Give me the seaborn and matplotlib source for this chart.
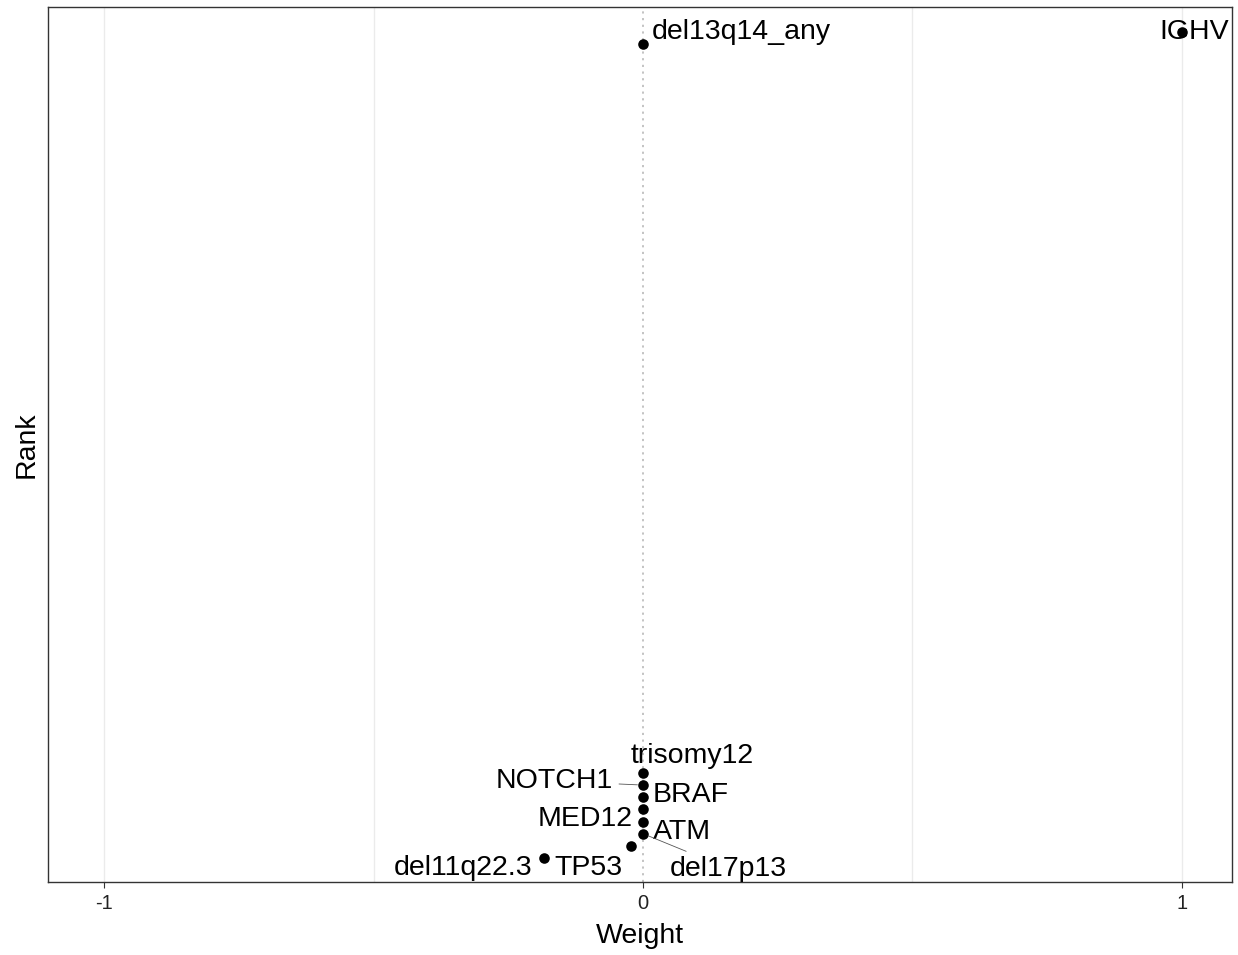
import matplotlib
matplotlib.use("Agg")
import matplotlib.pyplot as plt
import seaborn as sns
import pandas as pd

# ---- data ----
features = ["IGHV", "del13q14_any", "trisomy12", "NOTCH1", "BRAF",
            "MED12", "ATM", "del17p13", "TP53", "del11q22.3"]
weights = [1.0, 0.0, 0.0, 0.0, 0.0, 0.0, 0.0, 0.0, -0.022, -0.184]
ranks = [1, 2, 62, 63, 64, 65, 66, 67, 68, 69]
x_ticks = [-1, 0, 1]

df = pd.DataFrame({"Feature": features, "Weight": weights, "Rank": ranks})

# label offsets in pixels (dx, dy), alignment, and whether a segment is drawn
label_style = {
    "IGHV":         (12, 0, "center", False),
    "del13q14_any": (9, -12, "left", False),
    "trisomy12":    (49, -17, "center", False),
    "NOTCH1":       (-30, -4, "right", True),
    "BRAF":         (10, -2, "left", False),
    "MED12":        (-10, 10, "right", False),
    "ATM":          (10, 10, "left", False),
    "del17p13":     (27, 35, "left", True),
    "TP53":         (-9, 22, "right", False),
    "del11q22.3":   (-11, 10, "right", False),
}

sns.set_theme(style="white")
plt.rcParams["font.family"] = ["Liberation Sans", "DejaVu Sans"]

fig = plt.figure(figsize=(12.38, 9.55), dpi=100)
ax = fig.add_axes([48 / 1238, 1 - 882 / 955, (1232 - 48) / 1238, (882 - 7) / 955])

# grid lines (major and minor, vertical only)
for gx in [-1, -0.5, 0.5, 1]:
    ax.axvline(gx, color="#EBEBEB", lw=1.0, zorder=0)
ax.axvline(0, color="#BEBEBE", lw=1.3, ls=(0, (1.2, 2.5)), zorder=1)

sns.scatterplot(data=df, x="Weight", y="Rank", color="black", s=58,
                edgecolor="black", linewidth=0, ax=ax, zorder=3, legend=False)

ax.set_xlim(-1.104, 1.093)
ax.set_ylim(70.98, -1.06)

for f, w, r in zip(features, weights, ranks):
    dx, dy, ha, seg = label_style[f]
    ax.annotate(f, xy=(w, r), xytext=(dx * 0.72, -dy * 0.72),
                textcoords="offset points", ha=ha, va="center",
                fontsize=20.5, color="black", zorder=4,
                arrowprops=dict(arrowstyle="-", color="#555555", lw=0.6,
                                shrinkA=2, shrinkB=4) if seg else None)

ax.set_xticks(x_ticks)
ax.set_xticklabels([str(t) for t in x_ticks])
ax.set_yticks([])
ax.tick_params(axis="x", direction="out", length=4.5, width=0.8,
               color="#333333", labelsize=14.5, labelcolor="#222222", pad=4,
               bottom=True)
ax.set_xlabel("Weight", fontsize=20.5, color="black", labelpad=7)
ax.set_ylabel("Rank", fontsize=20.5, color="black", labelpad=6)
for sp in ax.spines.values():
    sp.set_visible(True)
    sp.set_color("#333333")
    sp.set_linewidth(1.0)
ax.grid(False)

fig.savefig("out.png", dpi=100, facecolor="white")
